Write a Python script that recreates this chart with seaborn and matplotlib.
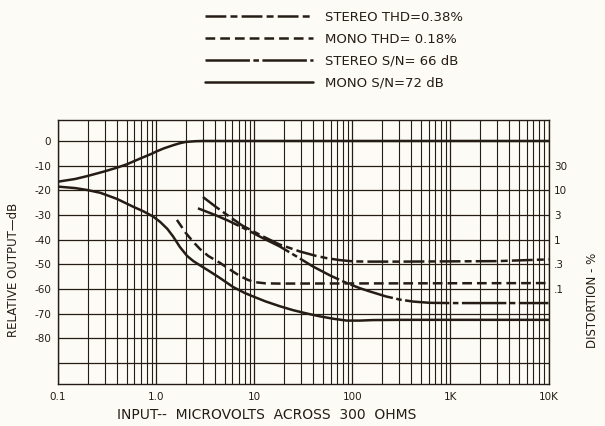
import matplotlib
matplotlib.use("Agg")
import matplotlib.pyplot as plt
import pandas as pd
import seaborn as sns

# FM tuner quieting / distortion curves vs. antenna input (microvolts across 300 ohms)
mono_signal_uv = [0.1, 0.15, 0.2, 0.3, 0.4, 0.5, 0.7, 0.9, 1.0, 1.2, 1.5, 1.75, 2.0, 2.5, 3.0, 10000]
mono_signal_db = [-16.5, -15.4, -14.2, -12.3, -10.8, -9.5, -7.0, -5.2, -4.3, -3.0, -1.7, -0.9, -0.4, -0.1, 0.0, 0.0]

mono_noise_uv = [0.1, 0.15, 0.2, 0.27, 0.4, 0.58, 0.75, 0.93, 1.1, 1.3, 1.49, 1.75, 2.07, 2.4, 2.8, 3.5,
                 4.5, 6.1, 8.0, 10, 13, 18.3, 25, 35, 47, 65, 88, 120, 160, 300, 10000]
mono_noise_db = [-18.5, -19.1, -19.9, -21.0, -23.5, -26.6, -28.6, -30.6, -32.8, -35.6, -38.7, -43.0, -46.6,
                 -48.7, -50.4, -52.8, -55.6, -59.2, -61.6, -63.2, -65.0, -67.0, -68.6, -70.0, -71.1,
                 -72.1, -72.8, -72.8, -72.6, -72.5, -72.5]

mono_thd_uv = [1.63, 1.8, 2.0, 2.38, 2.8, 3.4, 4.48, 5.5, 7.0, 8.5, 10, 13, 18, 10000]
mono_thd_db = [-32.0, -34.5, -37.2, -40.8, -43.8, -46.6, -49.4, -51.8, -54.5, -56.2, -57.2, -57.7, -57.8, -57.6]

stereo_thd_uv = [3.0, 4.0, 5.3, 7.5, 12.3, 18, 29.3, 42, 55, 75, 102, 150, 300, 3000, 10000]
stereo_thd_db = [-22.7, -26.5, -30.0, -34.2, -38.7, -41.9, -44.8, -46.5, -47.5, -48.3, -48.8, -48.9, -48.9, -48.7, -48.0]

stereo_sn_uv = [2.67, 4.0, 5.5, 8.45, 12, 18.3, 27, 39.8, 60, 88, 120, 151, 220, 306, 420, 617, 1000, 10000]
stereo_sn_db = [-27.3, -30.0, -32.4, -36.0, -39.2, -42.8, -46.8, -50.9, -54.6, -57.6, -59.7, -61.0, -63.0,
                -64.3, -65.1, -65.6, -65.7, -65.7]

x_tick_values = [0.1, 1, 10, 100, 1000, 10000]
x_tick_labels = ["0.1", "1.0", "10", "100", "1K", "10K"]
db_ticks = [0, -10, -20, -30, -40, -50, -60, -70, -80, -90]
db_labels = ["0", "-10", "-20", "-30", "-40", "-50", "-60", "-70", "-80", ""]
dist_ticks = [-10, -20, -30, -40, -50, -60]
dist_labels = ["30", "10", "3", "1", ".3", ".1"]

INK = "#251d15"
PAPER = "#fcfbf5"

sns.set_theme(style="white")
plt.rcParams["font.family"] = ["DejaVu Sans"]
plt.rcParams["lines.scale_dashes"] = False

fig = plt.figure(figsize=(6.05, 4.26), dpi=100, facecolor=PAPER)
ax = fig.add_axes([58 / 605, 1 - 384 / 426, 490.5 / 605, 264.5 / 426])
ax.set_facecolor(PAPER)
ax.set_xscale("log")
ax.set_xlim(0.1, 10000)
ax.set_ylim(-98.5, 8.7)

styles = {
    "stereo_thd": (0, (15, 3, 5, 3)),
    "mono_thd": (0, (7, 3.6)),
    "stereo_sn": (0, (32, 2.5, 4, 2.5)),
    "mono_sn": "solid",
}

series = [
    ("STEREO THD=0.38%", stereo_thd_uv, stereo_thd_db, styles["stereo_thd"]),
    ("MONO THD= 0.18%", mono_thd_uv, mono_thd_db, styles["mono_thd"]),
    ("STEREO S/N= 66 dB", stereo_sn_uv, stereo_sn_db, styles["stereo_sn"]),
    ("MONO S/N=72 dB", mono_noise_uv, mono_noise_db, styles["mono_sn"]),
    ("_mono_signal", mono_signal_uv, mono_signal_db, styles["mono_sn"]),
]

for name, xs, ys, ls in series:
    df = pd.DataFrame({"uv": xs, "db": ys})
    sns.lineplot(data=df, x="uv", y="db", ax=ax, color=INK, linewidth=1.8,
                 linestyle=ls, label=name, sort=False, zorder=3)

# log-paper grid
ax.set_axisbelow(True)
ax.grid(which="major", axis="both", color=INK, linewidth=0.9)
ax.grid(which="minor", axis="x", color=INK, linewidth=0.8)
ax.set_xticks(x_tick_values)
ax.set_xticklabels(x_tick_labels)
ax.set_yticks(db_ticks)
ax.set_yticklabels(db_labels)
ax.tick_params(axis="both", which="both", length=0, colors=INK, labelsize=7.5)
ax.tick_params(axis="x", pad=6)
ax.tick_params(axis="y", pad=5)
for s in ax.spines.values():
    s.set_color(INK)
    s.set_linewidth(1.0)

ax.set_xlabel("INPUT--  MICROVOLTS  ACROSS  300  OHMS", color=INK, fontsize=10)
ax.xaxis.set_label_coords((267 - 58) / 490.5, (384 - 415) / 264.5)
ax.xaxis.label.set_va("center")
ax.set_ylabel("RELATIVE OUTPUT\u2014dB", color=INK, fontsize=8.5)
ax.yaxis.set_label_coords((14 - 58) / 490.5, (384 - 270) / 264.5)
ax.yaxis.label.set_va("center")

ax2 = ax.twinx()
ax2.set_ylim(ax.get_ylim())
ax2.set_yticks(dist_ticks)
ax2.set_yticklabels(dist_labels)
ax2.tick_params(axis="y", length=0, colors=INK, labelsize=7.5, pad=4)
ax2.grid(False)
for s in ax2.spines.values():
    s.set_visible(False)
ax2.set_ylabel("DISTORTION - %", color=INK, fontsize=8.5)
ax2.yaxis.set_label_coords((592 - 58) / 490.5, (384 - 300) / 264.5)
ax2.yaxis.label.set_va("center")

handles, labels = ax.get_legend_handles_labels()
leg = ax.legend(handles[:4], labels[:4], loc="upper left",
                bbox_to_anchor=(205 / 605, 1 - 11 / 426), bbox_transform=fig.transFigure,
                frameon=False, fontsize=9.5, handlelength=8.2, handletextpad=0.9,
                labelspacing=0.68, borderpad=0, borderaxespad=0)
for t in leg.get_texts():
    t.set_color(INK)

fig.savefig("out.png", dpi=100, facecolor=PAPER)
